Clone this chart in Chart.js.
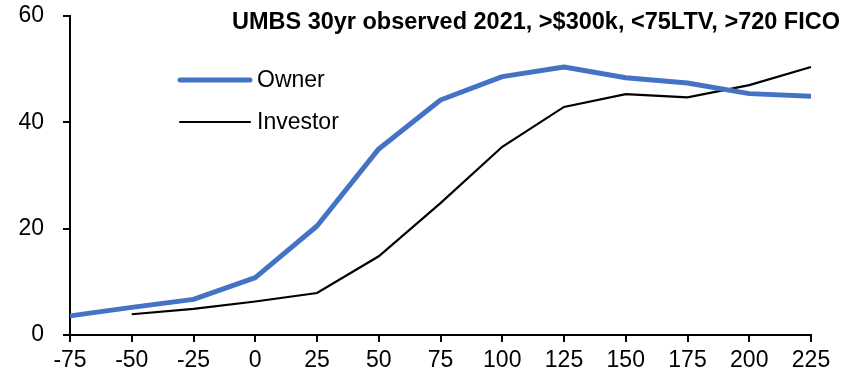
<!DOCTYPE html>
<html>
<head>
<meta charset="utf-8">
<script src="https://cdn.jsdelivr.net/npm/chart.js@4/dist/chart.umd.min.js"></script>
<style>
  html, body { margin: 0; padding: 0; background: #fff; }
  #wrap { position: relative; width: 852px; height: 391px; }
</style>
</head>
<body>
<div id="wrap"><canvas id="c" width="852" height="391"></canvas></div>
<script>
"use strict";
// UMBS 30yr observed 2021 — owner vs investor speeds by incentive (bp)
const incentives = ["-75", "-50", "-25", "0", "25", "50", "75", "100", "125", "150", "175", "200", "225"];
const owner    = [3.6, 5.2, 6.7, 10.8, 20.5, 35.0, 44.2, 48.6, 50.4, 48.4, 47.4, 45.4, 44.9];
const investor = [null, 3.9, 4.9, 6.3, 7.9, 14.8, 24.8, 35.4, 42.9, 45.3, 44.7, 47.0, 50.4];
const yTicks = [0, 20, 40, 60];
const title = "UMBS 30yr observed 2021, >$300k, <75LTV, >720 FICO";

const FONT = "'Liberation Sans', Arial, sans-serif";
const BLUE = "#4472C4";

// legend + title drawn inside the plot area, like the original
const overlay = {
  id: "overlay",
  afterDraw(chart) {
    const ctx = chart.ctx;
    ctx.save();
    ctx.fillStyle = "#000";
    ctx.font = "bold 23.5px " + FONT;
    ctx.textAlign = "right";
    ctx.textBaseline = "middle";
    ctx.fillText(title, 840, 23);

    ctx.font = "23px " + FONT;
    ctx.textAlign = "left";
    chart.data.datasets.forEach((ds, i) => {
      const y = 80 + i * 42;
      ctx.strokeStyle = ds.borderColor;
      ctx.lineWidth = ds.borderWidth;
      ctx.lineCap = "round";
      ctx.beginPath(); ctx.moveTo(180, y); ctx.lineTo(250, y); ctx.stroke();
      ctx.fillText(ds.label, 257, y + 1);
    });
    ctx.restore();
  }
};

new Chart(document.getElementById("c"), {
  type: "line",
  data: {
    labels: incentives,
    datasets: [
      { label: "Owner", data: owner, borderColor: BLUE, backgroundColor: BLUE, borderWidth: 5, pointRadius: 0, tension: 0, borderJoinStyle: "round" },
      { label: "Investor", data: investor, borderColor: "#000", backgroundColor: "#000", borderWidth: 2.2, pointRadius: 0, tension: 0 }
    ]
  },
  options: {
    responsive: false, animation: false, devicePixelRatio: 1,
    layout: { padding: { top: 16, right: 41, left: 0, bottom: 0 } },
    plugins: { legend: { display: false }, tooltip: { enabled: false } },
    scales: {
      x: {
        offset: false,
        grid: { display: true, drawOnChartArea: false, drawTicks: true, tickLength: 7, color: "#000", lineWidth: 2, offset: false },
        border: { color: "#000", width: 2 },
        ticks: { color: "#000", font: { family: FONT, size: 23 }, padding: 5, maxRotation: 0, autoSkip: false },
        afterFit(s) { s.height = 56; s.paddingLeft = 0; s.paddingRight = 0; }
      },
      y: {
        min: 0, max: 60,
        afterBuildTicks(s) { s.ticks = yTicks.map(v => ({ value: v })); },
        grid: { display: true, drawOnChartArea: false, drawTicks: true, tickLength: 7, color: "#000", lineWidth: 2 },
        border: { color: "#000", width: 2 },
        ticks: { color: "#000", font: { family: FONT, size: 23 }, padding: 19 },
        afterFit(s) { s.width = 70; s.paddingTop = 0; s.paddingBottom = 0; }
      }
    }
  },
  plugins: [overlay]
});
</script>
</body>
</html>
